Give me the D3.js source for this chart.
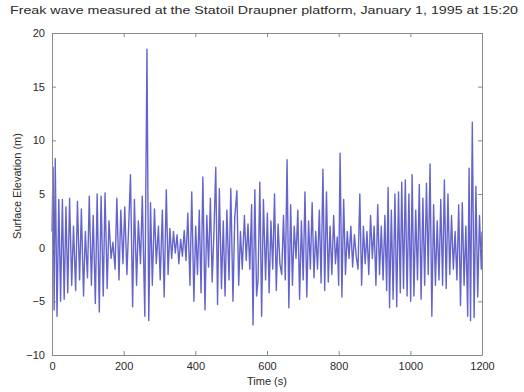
<!DOCTYPE html>
<html>
<head>
<meta charset="utf-8">
<script src="https://cdn.jsdelivr.net/npm/d3@7"></script>
<style>
  body { margin: 0; background: #fff; }
  svg text { font-family: "Liberation Sans", Arial, sans-serif; fill: #2a2a2a; }
</style>
</head>
<body>
<div id="chart"></div>
<script>
const timeSec = [
  0, 3, 6, 9, 14, 19, 24, 29, 34, 39, 44, 49, 55, 60, 66, 71, 77, 82, 88, 93, 99,
  104, 110, 115, 121, 126, 132, 137, 143, 148, 154, 159, 165, 170, 176, 181, 187, 192, 198,
  203, 209, 214, 219, 225, 230, 236, 241, 247, 252, 259, 265, 270, 275, 280, 286, 291, 297,
  302, 308, 313, 319, 324, 329, 334, 339, 344, 349, 354, 359, 364, 369, 374, 379, 385, 390, 396,
  401, 406, 411, 416, 421, 427, 432, 437, 442, 447, 452, 457, 462, 467, 473, 478, 483, 488, 494, 499,
  505, 510, 516, 521, 526, 531, 537, 542, 547, 552, 557, 561, 566, 571, 575, 580, 585, 590, 596,
  601, 606, 611, 616, 621, 626, 631, 636, 641, 646, 651, 656, 661, 666, 671, 676, 681, 686, 691, 696,
  701, 706, 711, 716, 721, 726, 731, 736, 741, 746, 751, 756, 761, 766, 771, 776, 781, 786, 791, 796,
  800, 804, 809, 814, 819, 824, 829, 834, 839, 844, 849, 854, 859, 864, 869, 874, 879, 884, 889, 894, 899,
  904, 909, 914, 919, 924, 929, 934, 938, 942, 947, 952, 957, 962, 967, 972, 976, 981, 986, 991, 996,
  1001, 1005, 1010, 1015, 1020, 1025, 1030, 1035, 1040, 1045, 1050, 1055, 1060, 1065, 1070, 1075, 1080, 1085, 1090, 1095,
  1100, 1105, 1110, 1115, 1120, 1125, 1130, 1135, 1140, 1145, 1150, 1155, 1160, 1164, 1168, 1173, 1178, 1183, 1188, 1193, 1198, 1200
];
const elevation = [
  1.5, 7.5, -5.8, 8.3, -6.4, 4.5, -5.0, 4.5, -4.8, 3.8, -4.2, 4.6, -3.5, 2.0, -4.0, 4.3, -3.0, 3.6, -4.5, 1.5, -2.8,
  4.8, -3.5, 3.0, -5.2, 5.0, -6.0, 4.8, -4.5, 5.1, -3.8, 2.5, -1.0, 0.5, -2.0, 4.6, -3.0, 3.5, -1.5,
  3.8, -2.5, 2.0, 6.8, -5.5, 4.5, -3.5, 2.5, -1.5, 4.8, -6.4, 18.5, -6.8, 4.2, -3.5, 3.6, -1.5, 2.0,
  -3.0, 3.5, -4.6, 5.4, -2.5, 1.8, -1.0, 1.5, -0.5, 1.2, -1.5, 0.8, -0.8, 1.6, -1.2, 3.2, -3.5, 5.2, -5.0,
  2.0, -2.5, 3.5, -4.2, 6.6, -5.8, 3.0, -1.8, 4.6, -3.2, 1.5, 7.5, -5.3, 5.5, -3.8, 2.5, -4.5, 3.5, -3.0, 5.5,
  -5.0, 2.8, 5.3, -3.5, 1.5, -2.0, 3.0, -1.2, 2.2, -2.0, 4.0, -7.2, 5.4, -4.5, -3.0, 6.1, -6.4, 4.5, -3.0,
  3.2, -4.2, 2.5, -2.0, 5.0, -4.0, 2.2, -1.5, -2.5, 3.0, -3.0, 8.2, -5.6, 4.0, -3.5, 2.0, -1.0, 3.5, -4.8, 2.5,
  -3.0, 5.2, -4.6, 2.5, -2.0, 4.2, -2.8, 1.5, -2.0, 3.5, -3.3, 7.3, -4.0, 5.2, -3.2, 2.0, -2.5, 3.0, -1.5, 1.0,
  -3.5, 8.8, -4.6, 4.5, -2.5, 1.5, -1.0, 2.0, -1.8, 1.2, -0.8, -2.0, 5.0, -3.5, 2.0, -1.5, 1.5, -2.5, 3.0, -1.0, 2.0,
  -3.5, 4.0, -2.5, 2.0, -3.0, 3.0, -4.0, 5.6, -5.6, 3.5, -4.8, 5.0, -5.5, 5.2, -4.2, 6.1, -3.8, 6.3, -4.5, 5.0,
  -5.0, 6.8, -4.5, 3.5, -3.0, 5.9, -4.8, 4.6, -3.5, 6.0, -2.5, 7.8, -6.4, 4.0, -3.5, 2.5, -3.0, 4.5, -3.5, 6.3,
  -3.8, 5.0, -2.5, 3.0, -2.0, 1.5, -3.0, 4.0, -5.4, 4.2, -3.5, 2.0, -6.4, 7.4, -6.8, 11.7, -6.5, 5.7, -4.6, 3.0, -2.0, 1.5
];
const xTicks = [0, 200, 400, 600, 800, 1000, 1200];
const yTicks = [-10, -5, 0, 5, 10, 15, 20];

const titleText = "Freak wave measured at the Statoil Draupner platform, January 1, 1995 at 15:20";
const xLabel = "Time (s)";
const yLabel = "Surface Elevation (m)";

// --- sizing ---
const W = 524, H = 392;
const margin = { top: 33, right: 42, bottom: 37, left: 52 };
const width = W - margin.left - margin.right;
const height = H - margin.top - margin.bottom;

const svg = d3.select("#chart").append("svg")
  .attr("width", W)
  .attr("height", H);

svg.append("rect").attr("width", W).attr("height", H).attr("fill", "#fff");

const plot = svg.append("g")
  .attr("transform", `translate(${margin.left},${margin.top})`);

// --- scales ---
const x = d3.scaleLinear().domain([0, 1200]).range([0, width]);
const y = d3.scaleLinear().domain([-10, 20]).range([height, 0]);

// --- the record ---
const series = timeSec.map((t, i) => ({ t: t, v: elevation[i] }));

const line = d3.line()
  .x(d => x(d.t))
  .y(d => y(d.v));

plot.append("path")
  .datum(series)
  .attr("fill", "none")
  .attr("stroke", "#6464cc")
  .attr("stroke-width", 1.4)
  .attr("stroke-linejoin", "round")
  .attr("d", line);

// --- axes (matlab style: box with inward ticks on all sides) ---
const tickLen = 4;
const fmt = d3.format("d");
const axisStyle = g => {
  g.select(".domain").attr("stroke", "#8a8a8a");
  g.selectAll(".tick line").attr("stroke", "#8a8a8a");
  g.selectAll(".tick text").attr("font-size", 11).attr("fill", "#2a2a2a");
};

plot.append("g")
  .attr("transform", `translate(0,${height})`)
  .call(d3.axisBottom(x).tickValues(xTicks).tickFormat(fmt).tickSizeInner(-tickLen).tickSizeOuter(0).tickPadding(7))
  .call(axisStyle);

plot.append("g")
  .call(d3.axisTop(x).tickValues(xTicks).tickSizeInner(-tickLen).tickSizeOuter(0).tickFormat(""))
  .call(axisStyle);

plot.append("g")
  .call(d3.axisLeft(y).tickValues(yTicks).tickFormat(fmt).tickSizeInner(-tickLen).tickSizeOuter(0).tickPadding(7))
  .call(axisStyle);

plot.append("g")
  .attr("transform", `translate(${width},0)`)
  .call(d3.axisRight(y).tickValues(yTicks).tickSizeInner(-tickLen).tickSizeOuter(0).tickFormat(""))
  .call(axisStyle);

// --- labels ---
svg.append("text")
  .attr("x", 10)
  .attr("y", 14)
  .attr("font-size", 11.5)
  .attr("textLength", 508)
  .attr("lengthAdjust", "spacingAndGlyphs")
  .text(titleText);

svg.append("text")
  .attr("x", margin.left + width / 2)
  .attr("y", H - 7)
  .attr("text-anchor", "middle")
  .attr("font-size", 11)
  .text(xLabel);

svg.append("text")
  .attr("transform", `translate(21,${margin.top + height / 2 - 8}) rotate(-90)`)
  .attr("text-anchor", "middle")
  .attr("font-size", 11)
  .text(yLabel);
</script>
</body>
</html>
